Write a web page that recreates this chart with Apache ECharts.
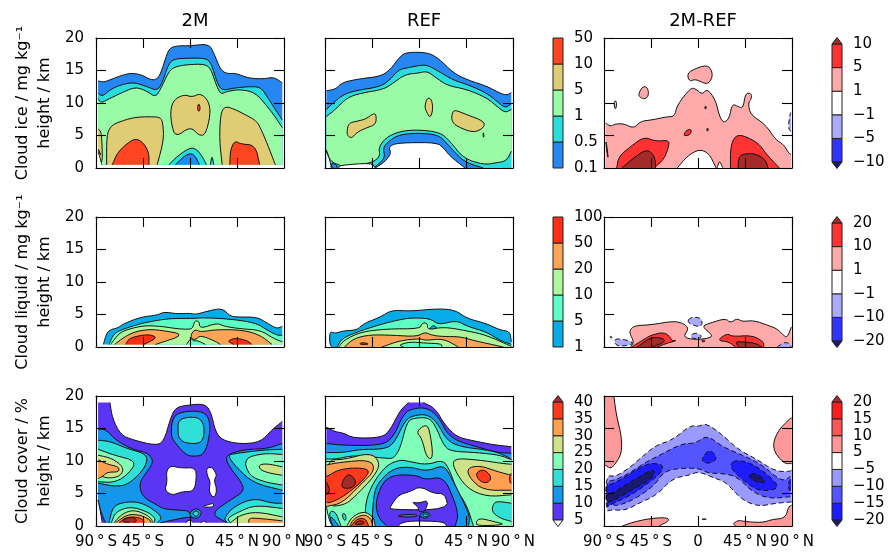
<!DOCTYPE html>
<html><head><meta charset="utf-8">
<style>html,body{margin:0;padding:0;background:#fff}#c{width:890px;height:557px}</style>
<script src="https://cdn.jsdelivr.net/npm/echarts@6/dist/echarts.min.js"></script>
</head><body><div id="c"></div>
<script>
// Text and tick labels
const columnTitles = ['2M', 'REF', '2M-REF'];
const rowLabels = ['Cloud ice / mg kg\u207B\u00B9\nheight / km', 'Cloud liquid / mg kg\u207B\u00B9\nheight / km', 'Cloud cover / %\nheight / km'];
const latTickLabels = ['90\u2009°\u2009S', '45\u2009°\u2009S', '0', '45\u2009°\u2009N', '90\u2009°\u2009N'];
const heightTicks = [0, 5, 10, 15, 20];
const iceLevels = ['0.1', '0.5', '1', '5', '10', '50'];
const iceDiffLevels = ['\u221210', '\u22125', '\u22121', '1', '5', '10'];
const liqLevels = ['1', '5', '10', '20', '50', '100'];
const liqDiffLevels = ['\u221220', '\u221210', '\u22121', '1', '10', '20'];
const covLevels = ['5', '10', '15', '20', '25', '30', '35', '40'];
const covDiffLevels = ['\u221220', '\u221215', '\u221210', '\u22125', '5', '10', '15', '20'];

// Band colours (index = band); -1 in the region lists means below the lowest level (blank)
const icePal = ['#2686f2', '#2adddd', '#99fba5', '#e0cc74', '#ff4422'];
const liqPal = ['#05ace8', '#5cffc4', '#aef79c', '#ffa356', '#ff2d16'];
const covPal = ['#5a35f5', '#1496ea', '#2ee0d5', '#80ffb8', '#cce38a', '#ff9f50', '#ff3a1c', '#a52a2a'];
const diffPal = ['#191970', '#3333ff', '#aaaaff', '#ffffff', '#ffaaaa', '#ff3333', '#a52a2a'];
const covDiffPal = ['#191970', '#1c1cff', '#5555ff', '#9999ff', '#ffffff', '#ff9999', '#ff5555', '#ff1c1c', '#a52a2a'];

// Contour regions: [band, [[latitude, height km], ...]], painted in order
const ice2M = [
 [0, [[-88,13.4],[-82.4,13.2],[-76,13.6],[-66.4,14.2],[-56.9,14.6],[-47.3,14.4],[-39.3,13.7],[-33,13.5],[-28.2,14.4],[-21.8,17.7],[-18.6,18.5],[-12.3,18.8],[.5,18.8],[18,19.1],[22.8,17.7],[29.2,15.1],[35.5,14.5],[43.5,14.6],[56.2,13.8],[70.6,13.7],[80.1,14],[88.4,13.1],[88.4,.5],[-88,.5]]],
 [1, [[-88,11.5],[-84,11],[-76,12.1],[-66.4,12.8],[-53.7,13.2],[-41,12.5],[-31.4,11.9],[-26.6,13.1],[-20.2,16.2],[-13.9,16.8],[-2.7,16.9],[14.8,16.9],[20.2,16.2],[26,13.1],[30.8,11.9],[41.9,12.3],[54.6,12.5],[67.4,12.5],[73.8,11],[81.7,9],[88.4,7.4],[88.4,.5],[-88,.5]]],
 [2, [[-88,10.7],[-85.5,10],[-79.2,10.5],[-66.4,11.5],[-52.1,12.5],[-41,11.8],[-33,10.9],[-28.2,12.1],[-20.2,14.9],[-13.9,15.6],[-2.7,15.9],[13.2,16],[19.6,15.4],[24.4,13.1],[29.2,11.3],[35.5,11.8],[48.3,12.1],[62.6,11.6],[73.8,9.5],[80.1,8.2],[88.4,6.2],[88.4,.5],[-88,.5]]],
 [1, [[-20.2,.5],[-12.3,1.8],[.5,3.2],[6.9,2.8],[11.6,1.8],[15.8,.5]]],
 [0, [[-13.9,.5],[-5.9,1.8],[.5,2.3],[5.2,1.8],[9.1,.5]]],
 [1, [[19.6,.5],[21,2],[22.8,.5]]],
 [3, [[-79.8,.5],[-79.8,5],[-76,6.4],[-69.6,7],[-53.7,7.8],[-37.8,7.9],[-28.2,7.8],[-26,6.9],[-25,4.4],[-31.4,.5]]],
 [3, [[-18.6,9],[-15.4,10.5],[-5.9,11.3],[2.1,10.9],[10,11.5],[18,10.3],[19.6,8.2],[14.8,5.1],[8.4,5],[.5,6.4],[-13.9,4.7],[-18,6.9]]],
 [3, [[29.2,8.2],[33,9.5],[41.9,9.1],[53,8.2],[64.2,7.2],[69,5.6],[73.8,3.8],[81.7,.5],[30.8,.5],[28.2,4.4]]],
 [3, [[-88,6],[-85,5.6],[-84,3],[-84,.8],[-88,.8]]],
 [4, [[-74.4,.5],[-69.6,2.3],[-61.6,3.6],[-52.1,4.6],[-44.1,3.8],[-39.3,2.3],[-39.3,.5]]],
 [4, [[38.1,.5],[38.7,2.8],[42.9,4.2],[48.3,3.7],[62.6,3.5],[66.7,.5]]],
 [4, [[6.9,9.2],[8.4,10],[10,9.2],[8.4,8.6]]],
 [4, [[-88,3],[-85,1.8],[-87,2.5]]],
 [-1, [[-88,2.5],[-86,1.5],[-84.5,.5],[-88,.5]]]
];
const iceREF = [
 [0, [[-88.7,11.9],[-80.1,12.1],[-73.8,13.1],[-64.2,13.5],[-53,13.8],[-37.1,14.1],[-27.6,15.1],[-18,17.2],[-11.6,17.8],[7.5,17.8],[18.6,16.9],[33,14.6],[47.3,13.5],[64.8,12.6],[77.6,11.5],[83.9,11.2],[88.4,11.6],[88.4,0],[-88.7,0]]],
 [1, [[-88.7,9],[-80.1,10.3],[-72.2,11.3],[-61,11.9],[-37.1,12.5],[-27.6,13.6],[-19.6,15.1],[-11.6,15.4],[4.3,15.9],[10.7,15.6],[18.6,14.9],[33,13.5],[48.9,12.7],[64.8,11.5],[74.4,10.3],[82.4,9.2],[88.4,9.9],[88.4,0],[-88.7,0]]],
 [2, [[-88.7,7.9],[-80.1,9],[-69,10.8],[-56.2,11.5],[-33.9,12.1],[-24.4,13.1],[-13.2,14.4],[-.5,14.6],[7.5,14.9],[15.5,14],[26.6,12.7],[45.7,12.1],[64.8,10.8],[74.4,9.5],[82.4,8.5],[88.4,9],[88.4,2.6],[83.9,1.1],[74.4,.8],[61.7,.5],[42.5,1.5],[29.8,4.1],[20.2,5.5],[-2.1,5.9],[-19.6,5.6],[-32.3,4.6],[-38.7,3.1],[-37.1,1.8],[-45.1,.8],[-62.6,.4],[-75.3,.4],[-84.9,1],[-88.7,2.8]]],
 [0, [[-43.5,0],[-32.3,1.5],[-34.6,3.1],[-29.1,4.1],[-19.6,5.1],[-2.1,5.4],[18.6,5.1],[26.6,3.8],[37.8,1.8],[45.7,.8],[61.7,0]]],
 [-1, [[-41.9,0],[-32.3,1],[-26.6,2.3],[-29.1,3.1],[-24.4,3.7],[-11.6,3.9],[17,3.9],[23.4,3.1],[29.8,1.8],[44.1,0]]],
 [-1, [[-88.7,2.6],[-84.9,1],[-84,0],[-88.7,0]]],
 [-1, [[-76.9,.4],[-45.1,.8],[-41.9,0],[-76.9,0]]],
 [0, [[-84.3,.8],[-78.5,.5],[-78.5,0],[-83,0]]],
 [3, [[-69,5.6],[-67.4,6.9],[-59.4,7.2],[-51.4,7.5],[-43.5,8.4],[-40.9,8.2],[-41.3,6.7],[-49.9,6.2],[-59.4,5.5],[-64.2,4.6],[-68.3,4.9]]],
 [3, [[5.3,9.5],[8.2,10.9],[12.3,10.5],[13.3,8.9],[10.7,7.7],[7.5,8.5]]],
 [3, [[31.4,8.2],[33.6,9],[45.7,8.2],[62.3,7.2],[62.3,6.2],[52.1,5.4],[36.2,6.4],[31.4,7.2]]],
 [3, [[61.7,5.6],[62.3,4.6],[61.2,5]]]
];
const iceDiff = [
 [4, [[-88.4,6.9],[-83.6,6.4],[-78.8,6.8],[-70.9,6.8],[-61.3,6.1],[-55,7.2],[-43.8,7.4],[-29.5,7.9],[-22.5,7.9],[-19.9,9.7],[-7.2,12.3],[-2.4,12.2],[4,11.3],[8.8,12.2],[16.7,10.5],[20.6,7.9],[24.7,6.9],[30.1,7.7],[32.7,9.9],[39,9.4],[43.2,9.2],[45.4,11.5],[51.1,11.5],[51.1,10.6],[48,10],[50.2,8.2],[64.5,6.7],[74.1,4.4],[82,3.6],[86.8,2.3],[89,2.1],[89,0],[-88.4,0]]],
 [3, [[-19.9,0],[-10.4,1.8],[.8,2.9],[10.4,2.3],[17.4,0]]],
 [3, [[18.3,0],[20.6,1.2],[23.7,0]]],
 [5, [[-77.9,0],[-75.7,1.8],[-64.5,3.3],[-51.8,4.8],[-40.6,4.1],[-27.9,4.3],[-27.9,3.3],[-32.7,1.3],[-42.2,0]]],
 [5, [[31.1,0],[31.1,3.3],[35.8,5],[43.8,5],[58.1,3.8],[64.5,2.3],[77.9,0]]],
 [6, [[-73.1,0],[-59.7,1.8],[-48.6,2.9],[-41.3,1.8],[-40.6,0]]],
 [6, [[38.4,0],[39,1.8],[45.4,2.2],[55,2.2],[64.5,1.3],[67.1,0]]],
 [5, [[-14.2,4.9],[-11.3,5.8],[-6.2,6],[-7.2,5.1]]],
 [6, [[6.5,9.3],[7.2,9.6],[8,9.3],[7.2,9]]],
 [6, [[8.4,5.9],[9.1,6.2],[9.9,5.9],[9.1,5.6]]],
 [5, [[-88.4,4.4],[-86.8,2.8],[-85.9,1.3],[-87.5,2.8]]],
 [4, [[-10.4,14.4],[-5.6,15.1],[8.8,15.9],[13.5,14.9],[13.5,13.8],[8.8,12.8],[-2.4,13.7],[-8.1,13.3]]],
 [4, [[-57.2,11.3],[-53.4,12.5],[-48.6,12.5],[-47,11.3],[-50.2,10.6],[-55,10.8]]],
 [4, [[-80.4,10.3],[-77.9,10.3],[-78.2,9.2],[-79.8,9.1]]],
 [2, [[86.2,6.2],[88.4,8.5],[89,8.5],[89,5.6]]]
];
const liq2M = [
 [0, [[-83,.4],[-79.8,2.1],[-76,2.7],[-69.6,2.9],[-63.2,3.6],[-47.3,4.6],[-31.4,4.9],[-25,5.4],[-12.3,5.1],[.5,5.2],[5.3,5],[16.4,5.5],[30.8,6],[38.7,4.7],[48.3,4.6],[64.2,4.6],[73.8,3.7],[83.3,2.8],[88.4,3.2],[88.4,.4]]],
 [1, [[-77.6,.4],[-72.8,2.1],[-63.2,2.8],[-47.3,3.6],[-28.2,4.2],[-15.4,4.4],[3.7,4.4],[11.6,4.5],[29.2,4.4],[48.3,4.1],[64.2,3.6],[73.8,2.6],[83.3,1.8],[88.4,1.8],[88.4,.4]]],
 [2, [[-76,.4],[-68,2.1],[-60,2.7],[-44.1,3.3],[-28.2,3.2],[-12.3,2.8],[.5,2.7],[3,3.1],[4.3,4],[8.8,4],[9.4,2.8],[26,3.7],[32.3,3.2],[48.3,2.8],[67.4,2.6],[80.1,1.3],[88.4,.8],[88.4,.4]]],
 [1, [[-3.3,.4],[1.1,1.4],[3,.9],[7,1],[14.8,.4]]],
 [3, [[-72.2,.4],[-63.2,1.5],[-53.7,2.3],[-40.9,2.7],[-28.2,2.6],[-4.3,1.9],[-33,.4]]],
 [3, [[1.1,1.3],[1.4,2.1],[5.3,2.7],[10,2.3],[26,2.7],[51.5,2.6],[67.4,1.8],[78.5,.4],[29.2,.4],[22.8,1],[10,1.8],[5.3,1.1]]],
 [4, [[-61.6,.4],[-58.5,1.3],[-47.3,1.8],[-37.8,1.9],[-31.4,1.4],[-44.1,.4]]],
 [4, [[37.1,1],[43.5,1.4],[54.6,1],[59.4,.4],[41.9,.4],[37.1,.8]]]
];
const liqREF = [
 [0, [[-83.3,0],[-85.5,.4],[-85.5,2.2],[-83.3,2.3],[-80.1,2.1],[-72.2,2.5],[-59.4,2.6],[-53,3.6],[-37.1,4.6],[-26,5.7],[-8.4,5.5],[17,5.9],[34.6,5.7],[45.7,4.4],[64.8,3.6],[77.6,2.6],[87.1,2.4],[88.4,.8],[88.4,0]]],
 [1, [[-78.5,0],[-73.8,1.3],[-59.4,2.3],[-40.3,3.3],[-24.4,4],[-8.4,4.5],[10.7,4.4],[18.6,3.4],[36.2,4.1],[45.7,3.2],[64.8,2.3],[77.6,1],[88.4,.4],[88.4,0]]],
 [0, [[10,2.6],[12.2,3.3],[16.4,3.2],[16.4,2.5]]],
 [2, [[-76.9,0],[-72.2,1],[-56.2,2.3],[-30.7,2.8],[1.1,2.8],[2.7,3.7],[8.1,3.7],[8.1,2.6],[23.4,3.1],[45.7,2.5],[64.8,1.8],[88.4,.1],[88.4,0]]],
 [3, [[-71.5,0],[-62.6,1.3],[-46.7,1.9],[-24.4,1.8],[-2.1,1.6],[5.9,2.3],[12.3,1.8],[23.4,1.6],[39.4,1.6],[52.1,1],[80.8,0]]],
 [2, [[-35.5,0],[-18,1],[1.1,1.3],[5.9,1],[23.4,1.3],[37.8,0]]],
 [1, [[-19.6,.3],[-8.4,.8],[5.9,.6],[21.8,.5],[21.8,0],[-14.8,0]]],
 [4, [[-57.8,.5],[-53,.7],[-47.6,.45],[-53,.35]]]
];
const liqDiff = [
 [4, [[-64.5,0],[-61.3,.8],[-65.5,2.1],[-64.5,2.8],[-59.7,3.3],[-45.4,3.4],[-23.1,4],[-13.5,3.6],[-8.8,2.8],[-14.5,1.5],[-2.4,1.1],[12,1.4],[13.5,1.9],[3.4,3.2],[12,3.7],[26.3,4.4],[31.1,3.7],[37.4,4.4],[42.2,3.9],[53.4,4.1],[67.7,3.3],[75.7,2.8],[82,1.8],[85.2,1.4],[89.5,3.1],[89.5,0]]],
 [5, [[-63.6,0],[-53.4,1],[-45.4,1.8],[-32.7,2.3],[-26.3,1.5],[-25.3,1],[-19.9,1],[-29.5,.6],[-39,0]]],
 [6, [[-58.1,0],[-45.4,1.5],[-34.2,1.4],[-31,.8],[-43.8,0]]],
 [5, [[18.3,1],[27.9,2.1],[32.7,1.6],[51.8,1.8],[62.9,.8],[62.9,0],[35.8,0],[29.5,.8]]],
 [6, [[35.8,.8],[42.2,.8],[55,.6],[61.3,0],[39,0]]],
 [5, [[3.4,1],[6.5,1.1],[6.5,.8],[4,.8]]],
 [2, [[-10.4,3.8],[-7.2,4.6],[3.4,4.5],[4,3.2],[-2.4,3.2]]],
 [2, [[-7.2,1.8],[-2.4,2.2],[3.4,1.8],[2.4,1.3],[-5.6,1.3]]],
 [2, [[-80.4,1],[-77.3,1.3],[-66.1,1],[-61.3,.5],[-72.5,.1],[-78.8,.3]]],
 [2, [[-84.3,1.8],[-82,1.5],[-83.6,1.3]]],
 [2, [[75.7,0],[83.6,.8],[88.4,.4],[89,0]]]
];
const cov2M = [
 [0, [[-88,19],[-76.6,19],[-74.4,16.6],[-66.4,14],[-53.7,13.2],[-33,12.4],[-25,13],[-18.6,16.6],[-13.9,18.2],[-2.7,18.6],[13.2,18.8],[19.6,17.8],[24.4,14.5],[30.8,13.2],[48.3,12.6],[67.4,12.9],[78.5,14.8],[88.4,16.1],[88.4,.5],[-88,.5]]],
 [1, [[-88,14.9],[-79.8,14.8],[-71.2,13.2],[-53.7,11.7],[-40.9,11.3],[-34.6,10],[-40.9,8.4],[-48.9,6.6],[-45.7,4.5],[-31.4,3.2],[-25,2.6],[-7.5,2.4],[-1.1,2.3],[2.1,1.2],[-2.7,1.4],[-28.2,.5],[-81,.5],[-85.5,2.2],[-88,4]]],
 [1, [[88.4,12.7],[73.8,11.9],[54.7,11.8],[38.7,11.2],[33.9,10.4],[38.7,8.9],[49.9,6.6],[51.5,5.3],[38.7,4],[19.6,1.9],[35.5,.5],[88.4,.5]]],
 [1, [[-18.6,14],[-16.4,16.8],[-7.5,17.6],[10,17.7],[18,16.8],[19.6,14.5],[13.9,10.9],[2.1,10.7],[-4.3,11],[-13.9,12.7]]],
 [1, [[-1.1,1.9],[5.3,2.8],[11.7,2.2],[8.5,1.2],[2.1,1.2]]],
 [2, [[2.1,1.9],[5.9,2.4],[9.1,1.9],[5.9,1.4]]],
 [2, [[-88,13.2],[-76,13],[-60,11.9],[-44.1,11.2],[-40.3,10.2],[-45.7,8.4],[-60,6.3],[-72.8,6.1],[-88,6.6]]],
 [2, [[-77.6,.5],[-74.4,2.7],[-68,3.5],[-53.7,3.8],[-40.9,3.2],[-26,1.4],[-31.4,.5]]],
 [2, [[88.4,11.8],[70.6,11.7],[45.1,11.2],[35.5,10.9],[45.1,8.9],[61,6.6],[88.4,5.5]]],
 [2, [[32.4,1.2],[41.9,3],[61,4.3],[78.6,3.5],[88.4,3.5],[88.4,.5],[35.5,.5]]],
 [2, [[-11.6,14.5],[-11.3,16.3],[-1.1,16.8],[10,16.6],[14.2,15],[11.7,12.7],[-4.3,12.7],[-10.6,13.5]]],
 [3, [[-88,11.8],[-72.8,10.9],[-51.1,10],[-58.4,8.1],[-71.2,6.7],[-88,6.8]]],
 [3, [[-75.3,.5],[-71.2,2.2],[-56.8,3],[-40.9,2.2],[-33,1.2],[-34.6,.5]]],
 [3, [[88.4,11],[70.6,11.2],[51.5,10.4],[56.3,7.8],[70.6,6.8],[88.4,6.3]]],
 [3, [[35.5,1.2],[48.3,2.3],[62.6,3.2],[88.4,2.7],[88.4,.5],[38.7,.5]]],
 [4, [[-88,10.9],[-74.4,10.4],[-63.2,9],[-66.4,7.7],[-77.6,7.3],[-88,7.8]]],
 [4, [[-72.8,.5],[-64.8,1.9],[-53.7,2.5],[-40.9,1.7],[-36.1,.9],[-36.1,.5]]],
 [4, [[65.8,9.4],[73.8,9.6],[88.4,9.1],[88.4,7.8],[77,8.1],[67.4,8.6]]],
 [4, [[38.7,.5],[48.3,1.7],[64.2,2.2],[88.4,1.4],[88.4,.5]]],
 [5, [[-88,10.2],[-79.1,9.5],[-68,9.1],[-68,8.3],[-79.1,8.3],[-83.9,7.6],[-88,7.3]]],
 [5, [[-71.2,.5],[-60,1.8],[-47.3,1.7],[-37.7,.9],[-37.7,.5]]],
 [5, [[56.3,.5],[56.3,1.2],[64.2,1.2],[88.4,.8],[88.4,.5]]],
 [6, [[-68,.5],[-61.6,1.3],[-50.5,1.4],[-44.1,.9],[-44.1,.5]]],
 [7, [[-66.4,.7],[-58.4,1.4],[-52.1,1.2],[-51.1,.7],[-55.2,.5]]],
 [-1, [[-22.8,8.4],[-18.6,9.3],[-9.1,8.9],[5.3,9],[6.2,7.3],[3.7,5.3],[-7.5,5.3],[-17,4.7],[-24.3,5.5],[-21.8,6.8]]],
 [-1, [[15.8,8.9],[21.2,9.1],[26,7.8],[22.8,7.1],[26,5.5],[22.8,4.2],[18,5.3],[19.6,6.8],[16.4,7.8]]],
 [-1, [[11.7,3],[18,3.3],[22.8,3.5],[22.2,2.9],[14.8,2.9]]],
 [-1, [[-4.3,.5],[-.4,1],[3.7,.5]]],
 [-1, [[10,.5],[13.2,.8],[16.4,.5]]],
 [-1, [[-88,4],[-85.5,2],[-84,.5],[-88,.5]]]
];
const covREF = [
 [0, [[-88.7,15.2],[-80.1,14.5],[-72.1,14.3],[-62.6,13.5],[-35.5,13.6],[-27.5,14.8],[-18,17.8],[-10,19],[4.3,19],[15.5,18.1],[25,15.5],[36.2,13.7],[52.1,13.1],[71.2,12.5],[88.4,12.2],[88.4,0],[-88.7,0]]],
 [1, [[-88.7,12.7],[-72.1,12.4],[-35.5,12.4],[-24.4,13.7],[-14.8,17.3],[-5.2,18.1],[7.5,18.2],[18.7,16.8],[26.6,14.3],[36.2,13.1],[55.3,12.2],[74.4,11.3],[88.4,11.2],[88.4,0],[-88.7,0]]],
 [2, [[-88.7,11.3],[-72.1,11.3],[-56.2,11.8],[-35.5,11.8],[-24.4,12.5],[-13.2,16.3],[-5.2,17],[7.5,17.2],[17.1,16],[26.6,13.2],[39.4,12.2],[64.9,11.7],[77.6,11.2],[88.4,10.3],[88.4,0],[-88.7,0]]],
 [3, [[-88.7,10.3],[-78.5,10.3],[-62.6,10.9],[-30.7,10.4],[-24.4,10.4],[-18,11.9],[-11.6,16],[-5.2,16.6],[9.1,16.7],[15.5,15.5],[23.4,12.5],[29.8,11.5],[55.3,11.3],[77.6,10.9],[88.4,10.2],[88.4,0],[-88.7,0]]],
 [4, [[-2.7,14.5],[5.9,15.6],[10,15],[13.9,10.4],[7.5,10.4],[2.7,13.5]]],
 [4, [[-88.7,10.2],[-72.1,10.2],[-46.7,11.3],[-37.1,9.8],[-41.9,7.8],[-62.6,4.3],[-72.1,3.2],[-88,3]]],
 [5, [[-88.7,9.4],[-75.3,9.8],[-46.7,10.2],[-41.9,8.6],[-56.2,6.3],[-73.7,3.5],[-88.7,3]]],
 [6, [[-88.7,7.6],[-73.7,8.9],[-46.7,8.9],[-51.4,7.3],[-72.1,4.5],[-86.5,3.5],[-88.7,3.7]]],
 [7, [[-73.7,6.8],[-67.4,8.2],[-59.4,6.8],[-64.2,5.8],[-73.7,5.8]]],
 [7, [[-88.7,6.8],[-84.9,5.5],[-88.7,4.8]]],
 [4, [[33,10.4],[55.3,10.2],[80.8,9.6],[88.4,9.5],[88.4,4.8],[64.9,4.5],[45.7,5.8],[33,8.9]]],
 [5, [[45.7,8.9],[58.5,9.3],[74.4,8.4],[88.4,7.8],[88.4,5.5],[61.7,5.5],[48.9,7.3]]],
 [6, [[53.7,8.1],[61.7,8.8],[69.6,7.6],[66.5,6.6],[58.5,6.8]]],
 [6, [[86.5,7.6],[88.4,8.1],[88.4,6.6],[87.2,6.6]]],
 [2, [[-51.4,0],[-51.4,3.7],[-43.5,6.8],[-30.7,9.4],[-18,10.2],[-8.4,9.9],[7.5,9.4],[23.4,10.2],[29.8,8.4],[36.2,5.5],[45.7,3.2],[52.1,0]]],
 [1, [[-45.1,0],[-43.5,4.8],[-38.7,6.8],[-24.4,8.9],[-8.4,9.1],[7.5,8.4],[23.4,9.4],[29.8,7.8],[40.9,4.3],[48.9,1.4],[47.3,0]]],
 [0, [[-30.7,0],[-38.7,1.2],[-41.9,3.5],[-35.5,6.6],[-24.4,7.9],[-2,7.8],[5.9,7.1],[23.4,7.6],[33,4.3],[37.8,1.7],[34.6,0]]],
 [-1, [[-27.5,3],[-19.6,4.8],[-8.4,5.3],[1.1,6.1],[13.9,5],[25,5],[28.2,2.5],[-27.5,2.5]]],
 [0, [[-7,3.7],[-.5,3.5],[9.1,4],[5.9,2.2],[-.5,2.2],[-.5,2.9]]],
 [1, [[-19.6,1.7],[-2,1.8],[-2,1.4],[-19.6,1.4]]],
 [1, [[-.5,1.6],[5.9,2.3],[12.3,1.7],[5.9,1.1]]],
 [2, [[2.7,1.7],[5.9,1.9],[10,1.7],[5.9,1.4]]],
 [-1, [[-18,.4],[-8.4,.8],[23.4,.7],[26.6,0],[-19.6,0]]],
 [2, [[69.6,2.2],[71.2,3.5],[76,3.8],[88.4,3.5],[88.4,.7],[77.6,1.2]]],
 [4, [[54.7,.7],[58.5,1.2],[71.2,.7],[84,.2],[55.3,0]]],
 [4, [[-69,0],[-64.2,1.4],[-53,2.3],[-43.5,1.4],[-41.9,0]]],
 [5, [[-66.4,0],[-62.6,1.1],[-53,1.8],[-46,1.2],[-44.4,0]]],
 [6, [[-65.1,0],[-59.4,1.1],[-51.4,1.2],[-48.2,0]]],
 [7, [[-62.6,.3],[-56.2,.9],[-51.4,.5],[-56.2,.2]]],
 [2, [[-86.5,2.2],[-80.1,2.3],[-74.7,0],[-83.3,0]]],
 [1, [[-85.5,1.2],[-83.3,1.4],[-76.9,0],[-82.3,0]]],
 [-1, [[-88.7,3],[-86.5,1.2],[-83.3,0],[-88.7,0]]],
 [2, [[-73.7,1.9],[-70.5,1.9],[-69.6,.9],[-72.1,.9]]]
];
const covDiff = [
 [5, [[-89,19.9],[-80.5,19.9],[-78.2,17.1],[-73.1,13.7],[-73.1,11.2],[-78.9,9.6],[-83.7,8.8],[-89,9.4]]],
 [5, [[88.4,16.6],[89.7,16.6],[89.7,9.6],[82,9.6],[70.9,11.9],[75.6,14.5]]],
 [5, [[-72.5,0],[-59.8,.7],[-43.8,1.2],[-29.5,1.3],[-27.3,.8],[-37.5,0]]],
 [5, [[33.6,.4],[39,.9],[43.8,.7],[61.3,.5],[70.9,1],[83.6,1.2],[86.8,3],[89.7,3.2],[89.7,0],[35.8,0]]],
 [5, [[3.9,1.1],[7.8,1.1],[7.8,1],[3.9,1]]],
 [3, [[-88.4,7.8],[-78.9,7.6],[-66.1,8.9],[-56.6,10.2],[-40.7,12.4],[-24.7,13.2],[-7.2,15.5],[.8,15.3],[7.1,15.8],[19.9,14.5],[39,11.7],[54.9,10.4],[74,8.4],[88.4,8.4],[89.7,8.6],[89.7,3.7],[74,3.5],[58.1,3],[42.2,4],[26.3,6.8],[16.7,7.3],[.8,8.4],[-8.8,7.8],[-24.7,7.3],[-39.1,4.8],[-56.6,3.5],[-69.3,2.4],[-83.7,2.5],[-87.8,2.2]]],
 [2, [[-88.4,6.8],[-78.9,7.1],[-66.1,8.1],[-50.2,9.8],[-39.1,10.7],[-15.2,12.7],[-2.4,12.7],[8.7,14],[23.1,12.2],[45.4,10.7],[61.3,9.4],[80.4,6.8],[88.4,7.6],[88.4,4.5],[67.7,4.2],[51.7,5.3],[37.4,7.6],[23.1,8.1],[10.3,8.1],[.8,8.9],[-16.8,8.9],[-32.7,8.4],[-42.2,6.1],[-66.1,3.6],[-85.3,2.9]]],
 [1, [[-88.4,6.3],[-78.9,6.6],[-50.2,9.6],[-37.5,9.6],[-32.7,9.1],[-37.5,7.8],[-63,4.8],[-85.3,3.2],[-86.8,2.8]]],
 [0, [[-88.4,4.8],[-78.9,5.3],[-45.4,8.7],[-40.7,8.4],[-45.4,7.1],[-66.1,5.3],[-86.8,3.3]]],
 [1, [[31,9.6],[37.4,10.2],[51.7,9.6],[67.7,7.8],[78.8,5.8],[61.3,5.3],[48.6,6.3],[32.6,8.6]]],
 [0, [[48.6,7.8],[54.9,8.2],[66.1,6.8],[58.1,6.6],[50.1,7.3]]],
 [1, [[86.8,6.8],[89,7.3],[89,5.5],[86.8,5.5]]],
 [1, [[3.9,10.4],[10.3,11.8],[17.3,10.9],[16.7,10],[8.7,9.6],[4.6,9.9]]]
];

// Layout
const colLeft = [96, 325, 604], rowTop = [38, 217, 396], panelW = 188, panelH = 130;
const cbLeft = [553, 832], cbW = 10;

const panels = [
 {c:0,r:0,regions:ice2M,pal:icePal},{c:1,r:0,regions:iceREF,pal:icePal},{c:2,r:0,regions:iceDiff,pal:diffPal,neg:3},
 {c:0,r:1,regions:liq2M,pal:liqPal},{c:1,r:1,regions:liqREF,pal:liqPal},{c:2,r:1,regions:liqDiff,pal:diffPal,neg:3},
 {c:0,r:2,regions:cov2M,pal:covPal},{c:1,r:2,regions:covREF,pal:covPal},{c:2,r:2,regions:covDiff,pal:covDiffPal,neg:4}
];
const bars = [
 {c:0,r:0,labels:iceLevels,pal:icePal,first:0},
 {c:1,r:0,labels:iceDiffLevels,pal:diffPal,first:1,under:'#191970',over:'#a52a2a'},
 {c:0,r:1,labels:liqLevels,pal:liqPal,first:0},
 {c:1,r:1,labels:liqDiffLevels,pal:diffPal,first:1,under:'#191970',over:'#a52a2a'},
 {c:0,r:2,labels:covLevels,pal:covPal,first:0,under:'#ffffff',over:'#a52a2a'},
 {c:1,r:2,labels:covDiffLevels,pal:covDiffPal,first:1,under:'#191970',over:'#a52a2a'}
];

const onEdge = (p, q) => (p[1] === q[1] && (p[1] <= 0.55 || p[1] >= 18.95)) || (p[0] === q[0] && Math.abs(p[0]) >= 88);
function soften(pts) {
  let cur = pts;
  for (let it = 0; it < 2; it++) {
    const out = [];
    for (let i = 0; i < cur.length; i++) {
      const p = cur[i], q = cur[(i + 1) % cur.length];
      if (onEdge(p, q)) { out.push(p, q); }
      else {
        out.push([p[0]*.75+q[0]*.25, p[1]*.75+q[1]*.25], [p[0]*.25+q[0]*.75, p[1]*.25+q[1]*.75]);
      }
    }
    cur = out;
  }
  return cur;
}
function regionItem(panel) {
  const smoothed = panel.regions.map(r => soften(r[1]));
  return function (params, api) {
    const reg = panel.regions[params.dataIndex], pts = smoothed[params.dataIndex];
    const band = reg[0];
    const fill = band < 0 ? '#ffffff' : panel.pal[band];
    const xy = pts.map(p => api.coord(p));
    const children = [{type:'polygon', shape:{points:xy}, style:{fill:fill, stroke:null}}];
    const dashed = panel.neg !== undefined && band >= 0 && band < panel.neg;
    const lineStyle = {fill:null, stroke:'#111', lineWidth:1, lineDash: dashed ? [5,3] : null};
    let run = [];
    const n = pts.length;
    let start = 0;
    for (let i = 0; i < n; i++) { if (onEdge(pts[i], pts[(i+1)%n])) { start = (i+1)%n; break; } }
    run = [xy[start]];
    for (let k = 0; k < n; k++) {
      const i = (start + k) % n, j = (i + 1) % n;
      if (onEdge(pts[i], pts[j])) {
        if (run.length > 1) children.push({type:'polyline', shape:{points:run}, style:lineStyle});
        run = [xy[j]];
      } else run.push(xy[j]);
    }
    if (run.length > 1) children.push({type:'polyline', shape:{points:run}, style:lineStyle});
    return {type:'group', children};
  };
}

const grid = [], xAxis = [], yAxis = [], series = [], title = [];
const axisBase = {
  axisLine:{show:true, onZero:false, lineStyle:{color:'#000', width:1.1}},
  axisTick:{show:true, inside:true, length:10, lineStyle:{color:'#000', width:1.1}},
  splitLine:{show:false}, z:5
};
columnTitles.forEach((t, c) => title.push({
  text:t, left:colLeft[c] + panelW/2, top:7, textAlign:'center',
  textStyle:{fontFamily:'DejaVu Sans', fontSize:18, fontWeight:'normal', color:'#000'}
}));

panels.forEach(p => {
  const g = grid.length;
  grid.push({left:colLeft[p.c], top:rowTop[p.r], width:panelW, height:panelH, outerBoundsMode:'none', containLabel:false});
  const xi = xAxis.length, yi = yAxis.length;
  xAxis.push(Object.assign({}, axisBase, {gridIndex:g, type:'value', min:-90, max:90, interval:45, position:'bottom',
    axisLabel:{show:p.r === 2, margin:9, fontSize:15, color:'#000', fontFamily:'DejaVu Sans', showMinLabel:true, showMaxLabel:true, hideOverlap:false,
      formatter:v => latTickLabels[Math.round((v + 90) / 45)]}}));
  xAxis.push(Object.assign({}, axisBase, {gridIndex:g, type:'value', min:-90, max:90, interval:45, position:'top', axisLabel:{show:false}}));
  const left = Object.assign({}, axisBase, {gridIndex:g, type:'value', min:0, max:20, interval:5, position:'left',
    axisLabel:{show:p.c === 0, margin:12, fontSize:15, color:'#000', fontFamily:'DejaVu Sans', formatter:v => String(heightTicks[v / 5])}});
  if (p.c === 0) {
    left.name = rowLabels[p.r]; left.nameLocation = 'middle'; left.nameRotate = 90; left.nameGap = 40; left.nameMoveOverlap = false;
    left.nameTextStyle = {fontSize:16, color:'#000', fontFamily:'DejaVu Sans', lineHeight:22};
  }
  yAxis.push(left);
  yAxis.push(Object.assign({}, axisBase, {gridIndex:g, type:'value', min:0, max:20, interval:5, position:'right', axisLabel:{show:false}}));
  series.push({type:'custom', xAxisIndex:xi, yAxisIndex:yi, clip:true, silent:true, animation:false, z:2,
    data:p.regions.map((r, i) => [r[1][0][0], r[1][0][1], i]), renderItem:regionItem(p)});
});

bars.forEach(b => {
  const g = grid.length, n = b.labels.length - 1, ext = !!b.over;
  const pad = ext ? 6 : 0;
  grid.push({left:cbLeft[b.c], top:rowTop[b.r] + pad, width:cbW, height:panelH - 2*pad, outerBoundsMode:'none', containLabel:false});
  const xi = xAxis.length, yi = yAxis.length;
  xAxis.push({gridIndex:g, type:'value', min:0, max:1, show:false});
  yAxis.push({gridIndex:g, type:'value', min:0, max:n, interval:1, position:'right',
    axisLine:{show:false}, axisTick:{show:false}, splitLine:{show:false},
    axisLabel:{margin:11, fontSize:15, color:'#000', fontFamily:'DejaVu Sans', formatter:v => b.labels[v]}});
  const rows = b.labels.slice(1).map((_, i) => [0, i, b.first + i]);
  series.push({type:'custom', xAxisIndex:xi, yAxisIndex:yi, silent:true, animation:false, z:3, clip:false,
    data:rows,
    renderItem:(params, api) => {
      const i = api.value(1), col = b.pal[api.value(2)];
      const a = api.coord([0, i]), c = api.coord([1, i + 1]);
      const kids = [{type:'rect', shape:{x:a[0], y:c[1], width:c[0]-a[0], height:a[1]-c[1]}, style:{fill:col, stroke:'#222', lineWidth:1}}];
      if (ext && i === 0) kids.push({type:'polygon', shape:{points:[[a[0], a[1]],[c[0], a[1]],[(a[0]+c[0])/2, a[1]+6.5]]}, style:{fill:b.under, stroke:'#222', lineWidth:1}});
      if (ext && i === n - 1) kids.push({type:'polygon', shape:{points:[[a[0], c[1]],[c[0], c[1]],[(a[0]+c[0])/2, c[1]-6.5]]}, style:{fill:b.over, stroke:'#222', lineWidth:1}});
      return {type:'group', children:kids};
    }});
});

const chart = echarts.init(document.getElementById('c'), null, {renderer:'canvas'});
chart.setOption({animation:false, backgroundColor:'#fff', textStyle:{fontFamily:'DejaVu Sans'}, title, grid, xAxis, yAxis, series});
</script>
</body></html>
